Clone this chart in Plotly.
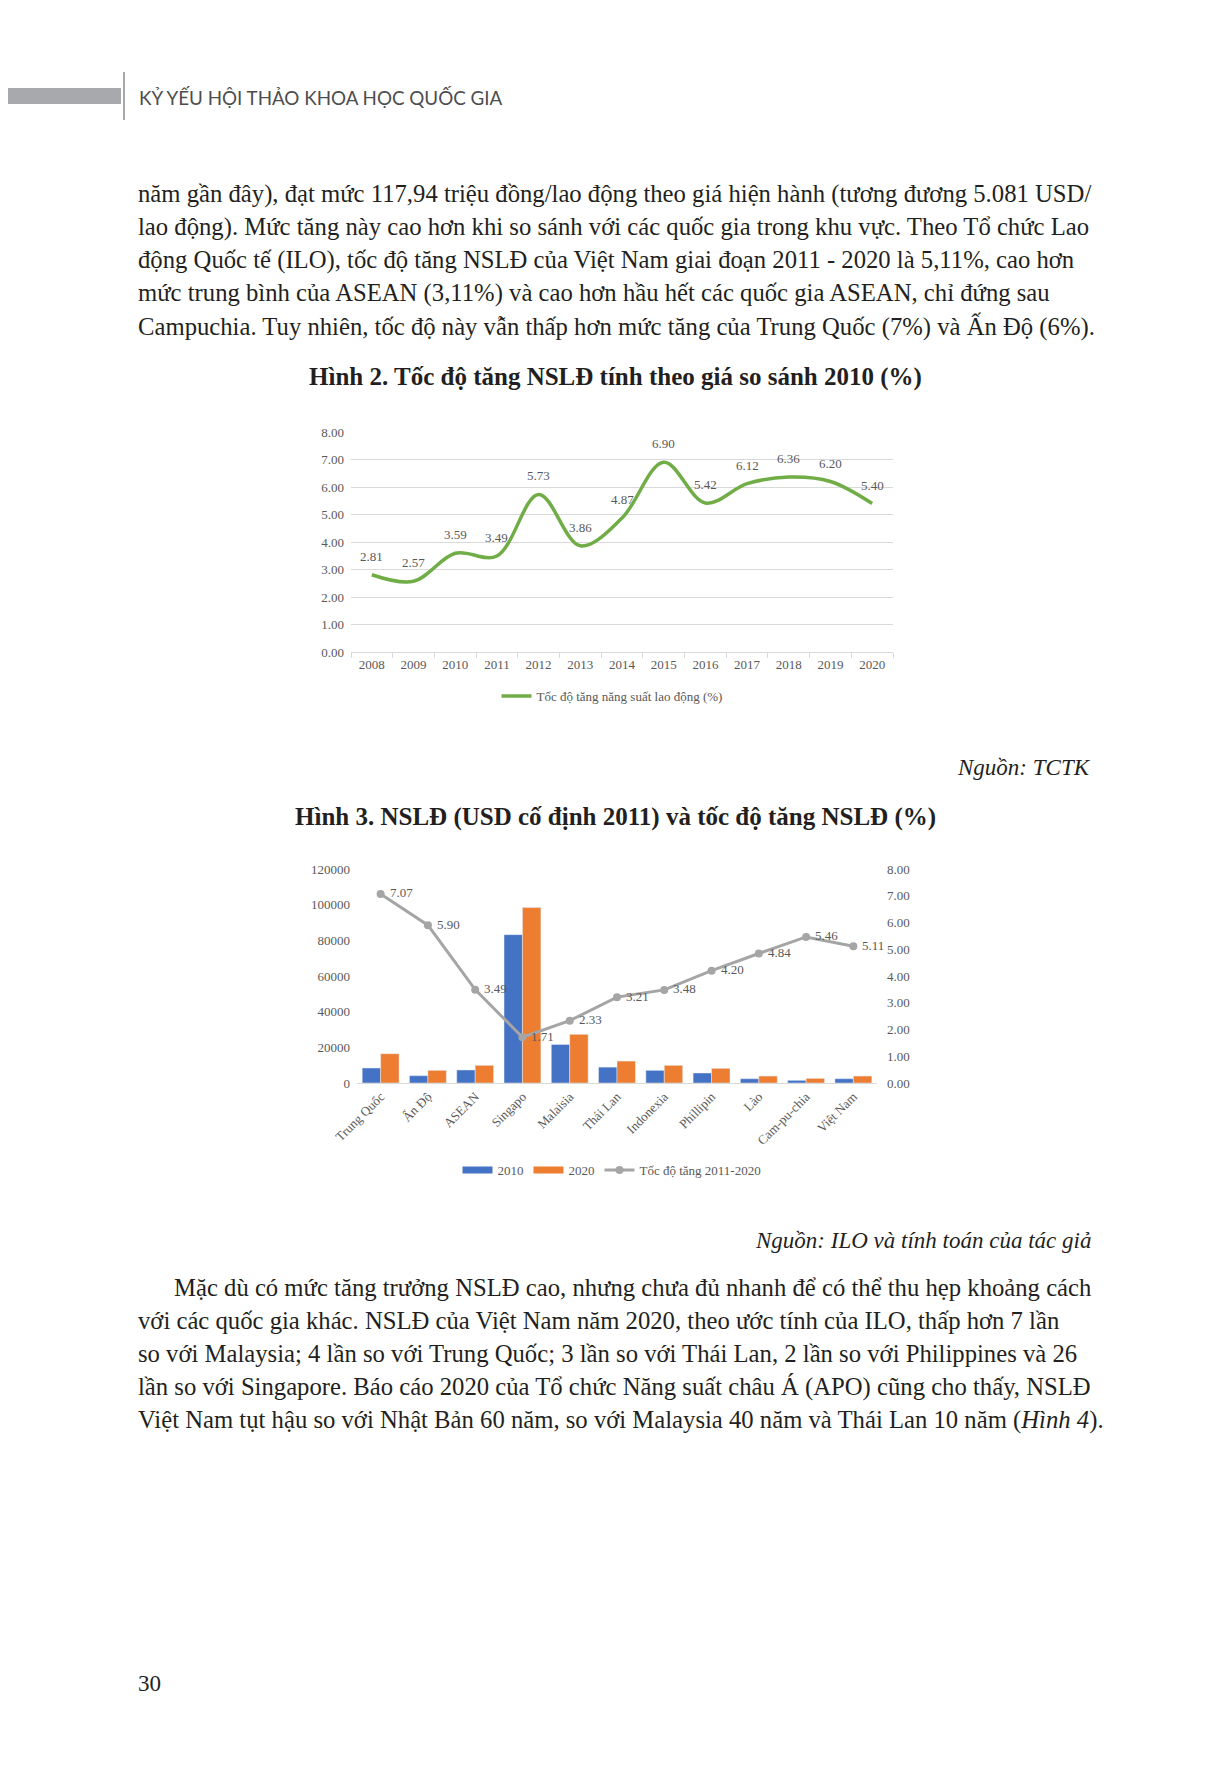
import plotly.graph_objects as go

W, H = 1228, 1777
OFF = 8  # the page body margin shifts the figure by 8px

# --- data: Hinh 2 ---
years = ["2008", "2009", "2010", "2011", "2012", "2013", "2014",
         "2015", "2016", "2017", "2018", "2019", "2020"]
growth_rate = [2.81, 2.57, 3.59, 3.49, 5.73, 3.86, 4.87,
               6.90, 5.42, 6.12, 6.36, 6.20, 5.40]

# --- data: Hinh 3 ---
countries = ["Trung Quốc", "Ấn Độ", "ASEAN", "Singapo", "Malaisia", "Thái Lan",
             "Indonexia", "Phillipin", "Lào", "Cam-pu-chia", "Việt Nam"]
nsld_2010 = [8400, 4100, 7300, 83200, 21600, 8900, 7100, 5600, 2400, 1500, 2400]
nsld_2020 = [16400, 7100, 9900, 98400, 27300, 12300, 9900, 8200, 3900, 2600, 3900]
growth_2011_2020 = [7.07, 5.90, 3.49, 1.71, 2.33, 3.21, 3.48, 4.20, 4.84, 5.46, 5.11]

para1 = [
    "năm gần đây), đạt mức 117,94 triệu đồng/lao động theo giá hiện hành (tương đương 5.081 USD/",
    "lao động). Mức tăng này cao hơn khi so sánh với các quốc gia trong khu vực. Theo Tổ chức Lao",
    "động Quốc tế (ILO), tốc độ tăng NSLĐ của Việt Nam giai đoạn 2011 - 2020 là 5,11%, cao hơn",
    "mức trung bình của ASEAN (3,11%) và cao hơn hầu hết các quốc gia ASEAN, chỉ đứng sau",
    "Campuchia. Tuy nhiên, tốc độ này vẫn thấp hơn mức tăng của Trung Quốc (7%) và Ấn Độ (6%).",
]
para2 = [
    "Mặc dù có mức tăng trưởng NSLĐ cao, nhưng chưa đủ nhanh để có thể thu hẹp khoảng cách",
    "với các quốc gia khác. NSLĐ của Việt Nam năm 2020, theo ước tính của ILO, thấp hơn 7 lần",
    "so với Malaysia; 4 lần so với Trung Quốc; 3 lần so với Thái Lan, 2 lần so với Philippines và 26",
    "lần so với Singapore. Báo cáo 2020 của Tổ chức Năng suất châu Á (APO) cũng cho thấy, NSLĐ",
    "Việt Nam tụt hậu so với Nhật Bản 60 năm, so với Malaysia 40 năm và Thái Lan 10 năm (<i>Hình 4</i>).",
]

SERIF = "Liberation Serif"
TXT = "#231F20"
AX = "#595959"
GRID = "#D9D9D9"
BLUE, ORANGE, GRAY, GREEN = "#4472C4", "#ED7D31", "#A5A5A5", "#70AD47"


def px(x):
    return (x - OFF) / W


def py(y):
    return 1 - (y - OFF) / H


fig = go.Figure()

# Hinh 2 line
fig.add_trace(go.Scatter(
    x=years, y=growth_rate, mode="lines", name="Tốc độ tăng năng suất lao động (%)",
    line=dict(color=GREEN, width=3.5, shape="spline", smoothing=1.0),
    xaxis="x", yaxis="y", legend="legend",
))

# Hinh 3 bars + line
fig.add_trace(go.Bar(x=countries, y=nsld_2010, name="2010", marker_color=BLUE,
                     xaxis="x2", yaxis="y2", showlegend=False))
fig.add_trace(go.Bar(x=countries, y=nsld_2020, name="2020", marker_color=ORANGE,
                     xaxis="x2", yaxis="y2", showlegend=False))
# legend entries with wide rectangle-like symbols
for nm, col in [("2010", BLUE), ("2020", ORANGE)]:
    fig.add_trace(go.Scatter(x=[None], y=[None], mode="lines", name=nm,
                             line=dict(color=col, width=7), xaxis="x2", yaxis="y2",
                             legend="legend2"))
fig.add_trace(go.Scatter(
    x=countries, y=growth_2011_2020, mode="lines+markers", name="Tốc độ tăng 2011-2020",
    line=dict(color=GRAY, width=3), marker=dict(size=8, color=GRAY),
    xaxis="x2", yaxis="y3", legend="legend2",
))

tickfont = dict(family=SERIF, size=13, color=AX)

fig.update_layout(
    width=W, height=H, margin=dict(l=0, r=0, t=0, b=0, autoexpand=False),
    paper_bgcolor="white", plot_bgcolor="white",
    barmode="group", bargap=0.22, bargroupgap=0,
    xaxis=dict(domain=[px(351), px(893)], anchor="y", type="category", showgrid=False,
               range=[-0.5, len(years) - 0.5],
               showline=True, linecolor=GRID, ticks="outside", tickson="boundaries",
               ticklen=5, tickcolor=GRID, tickfont=tickfont, automargin=False),
    yaxis=dict(domain=[py(652), py(432)], anchor="x", range=[0, 8], dtick=1,
               tickformat=".2f", gridcolor=GRID, zeroline=False, tickfont=tickfont,
               ticklabelstandoff=6, automargin=False),
    xaxis2=dict(domain=[px(357), px(877)], anchor="y2", type="category", showgrid=False,
                range=[-0.5, len(countries) - 0.5],
                showline=True, linecolor=GRID, tickangle=-45, tickfont=tickfont,
                automargin=False),
    yaxis2=dict(domain=[py(1083), py(869)], anchor="x2", range=[0, 120000], dtick=20000,
                tickformat="d", showgrid=False, zeroline=False, tickfont=tickfont,
                ticklabelstandoff=6, automargin=False),
    yaxis3=dict(overlaying="y2", side="right", anchor="x2", range=[0, 8], dtick=1,
                tickformat=".2f", showgrid=False, zeroline=False, tickfont=tickfont,
                ticklabelstandoff=9, automargin=False),
    legend=dict(x=px(612), y=py(696), xanchor="center", yanchor="middle",
                orientation="h", font=dict(family=SERIF, size=13, color=AX)),
    legend2=dict(x=px(612), y=py(1170), xanchor="center", yanchor="middle",
                 orientation="h", font=dict(family=SERIF, size=13, color=AX)),
)

# header
fig.add_shape(type="rect", xref="paper", yref="paper", x0=0, x1=px(121), y0=py(104), y1=py(88),
              fillcolor="#A7A9AC", line_width=0)
fig.add_shape(type="line", xref="paper", yref="paper", x0=px(124), x1=px(124), y0=py(120), y1=py(72),
              line=dict(color="#6D6E71", width=1.2))

annots = []

# data labels, Hinh 2 (above the points); category axes take the serial index
for i, v in enumerate(growth_rate):
    annots.append(dict(x=i, y=v, xref="x", yref="y", text=f"{v:.2f}", showarrow=False,
                       yanchor="bottom", yshift=9, font=dict(family=SERIF, size=13, color=AX)))
# data labels, Hinh 3 (right of the points)
for i, v in enumerate(growth_2011_2020):
    annots.append(dict(x=i, y=v, xref="x2", yref="y3", text=f"{v:.2f}", showarrow=False,
                       xanchor="left", xshift=7, yshift=1,
                       font=dict(family=SERIF, size=13, color=AX)))


def text(x, y, s, size=24.7, anchor="left", family=SERIF, color=TXT):
    annots.append(dict(x=px(x), y=py(y), xref="paper", yref="paper", text=s, showarrow=False,
                       xanchor=anchor, yanchor="middle",
                       font=dict(family=family, size=size, color=color)))


text(137, 97, "KỶ YẾU HỘI THẢO KHOA HỌC QUỐC GIA", size=18.8, family="Lato", color="#4D4D4F")

for i, line in enumerate(para1):
    text(136, 194 + i * 33, line)

text(615, 377, "<b>Hình 2. Tốc độ tăng NSLĐ tính theo giá so sánh 2010 (%)</b>", size=25, anchor="center")
text(1093, 767, "<i>Nguồn: TCTK</i>", size=23, anchor="right")
text(615, 817, "<b>Hình 3. NSLĐ (USD cố định 2011) và tốc độ tăng NSLĐ (%)</b>", size=25, anchor="center")
text(1093, 1240, "<i>Nguồn: ILO và tính toán của tác giả</i>", size=23, anchor="right")

for i, line in enumerate(para2):
    text(172 if i == 0 else 136, 1287 + i * 33.2, line)

text(136, 1683, "30", size=23)

fig.update_layout(annotations=annots)

fig.write_html("out.html")
